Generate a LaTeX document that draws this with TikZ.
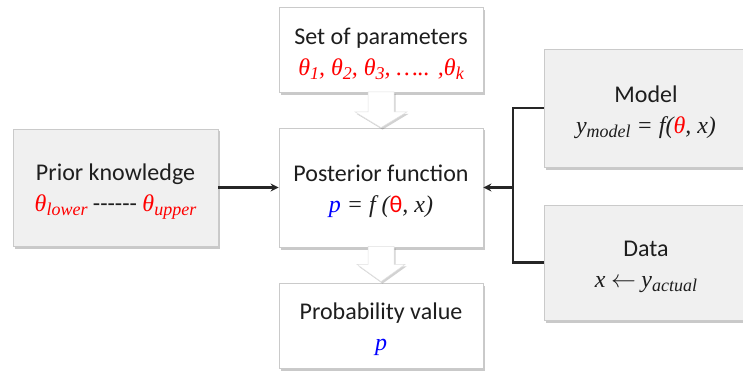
\documentclass[tikz,border=0pt]{standalone}
\usepackage[no-math]{fontspec}
\setmainfont{Carlito}
\newfontfamily\mf{Liberation Serif}
\usetikzlibrary{shadows,arrows.meta}
\definecolor{txt}{HTML}{1E1E1E}
\definecolor{bord}{HTML}{CACACA}
\definecolor{side}{HTML}{F0F0F0}
\newcommand\mysub[1]{\raisebox{-0.35ex}{\fontsize{18}{18}\selectfont #1}}
\newcommand\mi[1]{{\mf\itshape #1}}
\newcommand\upstrut{\rule{0pt}{25pt}}
\tikzset{
  box/.style={draw=bord, line width=0.8pt, fill=white, minimum width=204pt,
    inner sep=0pt, align=center, text=txt, font=\fontsize{24}{31}\selectfont,
    drop shadow={shadow xshift=2pt, shadow yshift=-2.5pt, opacity=0.3, fill=black!70}},
  sidebox/.style={box, fill=side},
  conn/.style={line width=2.2pt, draw=black!85},
  tip/.style={-{Stealth[length=8pt,width=8pt]}},
  blockarrow/.style={fill=white, draw=black!12, line width=0.5pt,
    drop shadow={shadow xshift=1.5pt, shadow yshift=-2pt, opacity=0.25, fill=black!70}}
}
\begin{document}
\begin{tikzpicture}[x=1pt,y=-1pt]
\useasboundingbox (0,0) rectangle (743,374);
\clip (0,0) rectangle (743,374);
% nodes
\node[box, minimum height=85pt] (params) at (381,50)
  {\upstrut Set of parameters\\ \textcolor{red}{\mi{θ\mysub{1}, θ\mysub{2}, θ\mysub{3}, ….. ,θ\mysub{k}}}};
\node[box, minimum height=119pt] (post) at (381,187.5)
  {\upstrut Posterior function\\ \mi{\textcolor{blue}{p} = f (\textcolor{red}{\upshape\rmfamily θ}, x)}};
\node[box, minimum height=85pt] (prob) at (381,325.5)
  {\upstrut Probability value\\ \textcolor{blue}{\mi{p}}};
\node[sidebox, minimum width=205pt, minimum height=117pt] (prior) at (115.5,187.5)
  {\upstrut Prior knowledge\\ \textcolor{red}{\mi{θ\mysub{lower}}} -{}-{}-{}-{}-{}- \textcolor{red}{\mi{θ\mysub{upper}}}};
\node[sidebox, minimum height=118pt] (model) at (646,108)
  {\upstrut Model\\ \mi{y\mysub{model} = f(\textcolor{red}{θ}, x)}};
\node[sidebox, minimum height=115pt] (data) at (646,262.5)
  {\upstrut Data\\ \mi{x} $\leftarrow$ \mi{y\mysub{actual}}};
% block arrows
\draw[blockarrow] ([xshift=-13pt,yshift=1pt]params.south) -- ++(0,20) -- ++(-13,0) -- (post.north)
  -- ([xshift=26pt,yshift=-19pt]params.south) -- ++(-13,0) -- ([xshift=13pt,yshift=1pt]params.south) -- cycle;
\draw[blockarrow] ([xshift=-13pt,yshift=1pt]post.south) -- ++(0,18) -- ++(-11,0) -- ([yshift=1pt]prob.north)
  -- ([xshift=24pt,yshift=-17pt]post.south) -- ++(-11,0) -- ([xshift=13pt,yshift=1pt]post.south) -- cycle;
% connectors
\coordinate (j) at (513,187.5);
\draw[conn] (model.west) -| (j);
\draw[conn] (data.west) -| (j);
\draw[conn, tip] (j) -- (post.east);
\draw[conn, tip] (prior.east) -- (post.west);
\end{tikzpicture}
\end{document}
